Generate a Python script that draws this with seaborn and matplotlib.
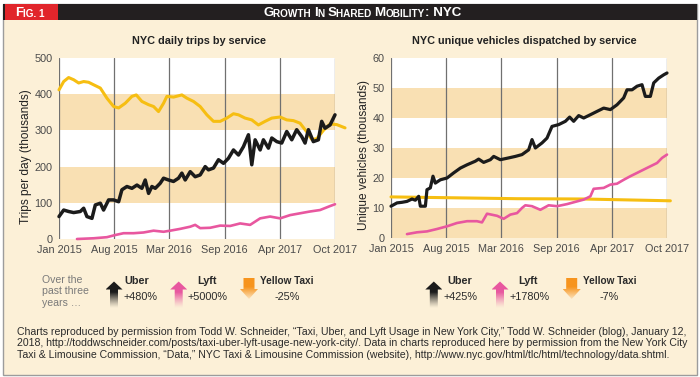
import matplotlib
matplotlib.use("Agg")
import matplotlib.pyplot as plt
import matplotlib.colors as mcolors
from matplotlib.patches import Rectangle, Polygon

import seaborn as sns
import pandas as pd
import numpy as np

sns.set_theme(style="white")
plt.rcParams["font.family"] = ["Liberation Sans Narrow", "Liberation Sans", "DejaVu Sans"]

# ---- data (x = months since Jan 2015) ----
trips_uber_month = [0.0, 0.56, 1.15, 1.75, 2.55, 2.95, 3.34, 3.94, 4.34, 4.94, 5.33, 5.93, 6.53,
                    7.13, 7.52, 8.12, 8.72, 9.32, 9.91, 10.31, 10.71, 11.11, 11.51, 12.1, 12.5,
                    13.1, 13.69, 14.29, 14.69, 15.09, 15.69, 16.28, 16.88, 17.48, 17.87, 18.47,
                    19.07, 19.67, 20.26, 20.86, 21.46, 22.05, 22.65, 23.05, 23.45, 24.05, 24.44,
                    25.04, 25.44, 26.04, 26.63, 27.23, 27.83, 28.42, 29.02, 29.42, 29.82, 30.41,
                    31.01, 31.41, 31.81, 32.41, 33.0]
trips_uber = [62, 80, 76, 73, 76, 85, 62, 57, 94, 99, 80, 108, 108,
              103, 136, 145, 140, 149, 140, 163, 126, 145, 140, 154, 168,
              163, 159, 168, 182, 163, 186, 172, 177, 200, 191, 196,
              219, 209, 223, 246, 232, 255, 288, 205, 274, 246, 274,
              251, 279, 269, 265, 297, 274, 302, 283, 265, 302, 269,
              274, 325, 306, 315, 343]

trips_lyft_month = [2.15, 4.14, 5.73, 6.73, 7.72, 8.92, 10.11, 11.31, 12.5, 13.3, 14.49, 15.69,
                    16.28, 16.88, 18.07, 19.27, 20.46, 21.66, 22.85, 24.05, 25.24, 26.43, 27.63,
                    28.82, 30.02, 31.21, 32.41, 33.0]
trips_lyft = [0, 2, 5, 11, 16, 16, 18, 23, 20, 23, 28, 34,
              39, 30, 31, 37, 36, 43, 39, 57, 62, 57, 66,
              71, 76, 80, 91, 96]

trips_taxi_month = [0.0, 0.56, 1.15, 1.75, 2.35, 2.95, 3.54, 4.14, 4.94, 5.73, 6.53, 7.13, 7.92,
                    8.72, 9.24, 9.91, 10.71, 11.31, 11.9, 12.5, 12.9, 13.69, 14.69, 15.29, 16.08,
                    16.88, 17.68, 18.47, 19.27, 20.06, 20.86, 21.46, 22.25, 23.05, 23.84, 24.64,
                    25.44, 26.43, 27.23, 28.03, 28.82, 29.62, 30.22, 30.82, 31.61, 32.41, 33.21, 34.2]
trips_taxi = [412, 435, 446, 440, 431, 435, 433, 426, 417, 389, 366, 362, 375,
              394, 398, 380, 371, 366, 352, 375, 394, 392, 398, 389, 380,
              366, 343, 325, 325, 334, 346, 343, 334, 329, 315, 325,
              334, 337, 329, 327, 320, 296, 275, 277, 300, 318, 316, 307]

veh_uber_month = [0.0, 0.72, 1.32, 1.91, 2.51, 2.91, 3.31, 3.51, 4.11, 4.3, 4.7, 5.02, 5.3,
                  5.9, 6.7, 7.49, 8.29, 9.09, 10.08, 10.48, 11.08, 11.88, 12.28, 13.07, 14.07,
                  14.87, 15.66, 16.46, 16.86, 17.26, 18.06, 18.65, 19.25, 20.05, 20.85, 21.36,
                  21.84, 22.44, 23.04, 23.84, 24.63, 25.43, 26.23, 27.02, 27.82, 28.22, 28.82,
                  29.42, 30.01, 30.41, 31.01, 31.41, 32.01, 32.61, 33.0]
veh_uber = [10.6, 11.7, 11.9, 12.2, 13.0, 12.6, 13.9, 10.6, 10.6, 16.1, 16.7, 20.6, 18.3,
            19.4, 20.0, 21.7, 23.3, 24.4, 25.6, 26.3, 25.2, 26.1, 27.2, 26.1, 26.7,
            27.2, 27.8, 29.4, 32.8, 30.0, 31.7, 33.3, 37.2, 37.8, 38.9, 40.3,
            38.9, 40.8, 40.0, 41.1, 42.2, 43.3, 42.8, 44.4, 46.7, 49.4, 49.4,
            50.6, 51.1, 47.2, 47.2, 51.7, 53.3, 54.4, 55.0]

veh_lyft_month = [1.91, 3.11, 4.3, 5.5, 6.7, 7.89, 9.09, 10.28, 10.88, 11.48, 12.68, 13.47,
                  14.27, 15.07, 15.66, 16.06, 16.86, 17.86, 18.85, 19.85, 21.05, 22.24, 23.04,
                  23.84, 24.23, 25.43, 26.23, 27.02, 27.82, 28.62, 29.42, 30.21, 31.01, 31.81,
                  32.41, 33.0]
veh_lyft = [1.3, 1.9, 2.2, 3.0, 3.9, 5.0, 5.6, 5.6, 5.2, 8.1, 7.4, 6.4,
            7.8, 8.3, 10.0, 10.9, 10.6, 9.4, 10.9, 10.6, 11.3, 12.2, 12.8,
            13.9, 16.4, 16.7, 17.8, 18.1, 19.4, 20.6, 21.7, 22.8, 23.9, 25.0,
            26.7, 27.8]

veh_taxi_month = [0.0, 15.07, 23.04, 33.4]
veh_taxi = [13.7, 13.1, 13.0, 12.4]

date_labels = ["Jan 2015", "Aug 2015", "Mar 2016", "Sep 2016", "Apr 2017", "Oct 2017"]

services = ["Uber", "Lyft", "Yellow Taxi"]
trips_change = ["+480%", "+5000%", "-25%"]
vehicles_change = ["+425%", "+1780%", "-7%"]

footnote = [
    "Charts reproduced by permission from Todd W. Schneider, \u201cTaxi, Uber, and Lyft Usage in New York City,\u201d "
    "Todd W. Schneider (blog), January 12,",
    "2018, http://toddwschneider.com/posts/taxi-uber-lyft-usage-new-york-city/. Data in charts reproduced here by "
    "permission from the New York City",
    "Taxi & Limousine Commission, \u201cData,\u201d NYC Taxi & Limousine Commission (website), "
    "http://www.nyc.gov/html/tlc/html/technology/data.shtml.",
]

# ---- colours ----
CREAM = "#FCF0D7"
BAND = "#F9E0B3"
YELLOW = "#F6BE12"
BLACK = "#1B1B1B"
PINK = "#E8579F"
ORANGE = "#F7941D"
GRID = "#707070"
TICK = "#4A4A4A"

fig = plt.figure(figsize=(7, 3.77), dpi=100)
fig.patch.set_facecolor("white")
W, H = 700, 377

# cream panel with grey frame (behind everything)
fig.patches.append(Rectangle((3 / W, 1 - 375 / H), 694 / W, 371 / H, transform=fig.transFigure,
                             facecolor=CREAM, edgecolor="#9C9C9C", lw=1.0, zorder=-5))


def draw_chart(ax, series, ymax, step, orange_first):
    ax.set_facecolor("none")
    xmax = 33
    # alternating horizontal bands
    for i, lo in enumerate(np.arange(0, ymax, step)):
        shaded = (i % 2 == 0) if orange_first else (i % 2 == 1)
        ax.axhspan(lo, lo + step, color=BAND if shaded else "white", lw=0, zorder=0)
    ticks = np.linspace(0, xmax, len(date_labels))
    for t in ticks:
        ax.axvline(t, color=GRID, lw=0.9, zorder=1)
    for x, y, color, lw in series:
        sns.lineplot(x=x, y=y, color=color, lw=lw, ax=ax, clip_on=False, zorder=3,
                     solid_joinstyle="round", solid_capstyle="round")
    ax.set_xlim(0, xmax)
    ax.set_ylim(0, ymax)
    ax.set_xticks(ticks)
    ax.set_xticklabels(date_labels)
    ax.set_yticks(np.arange(0, ymax + 1, step))
    ax.tick_params(axis="x", length=0, pad=4.5, labelsize=7.8, labelcolor=TICK)
    ax.tick_params(axis="y", length=0, pad=4.5, labelsize=7.8, labelcolor=TICK)
    for s in ax.spines.values():
        s.set_visible(False)


ax1 = fig.add_axes([59 / W, 1 - 239 / H, 276 / W, 181 / H])
draw_chart(ax1, [(trips_taxi_month, trips_taxi, YELLOW, 2.2),
                 (trips_lyft_month, trips_lyft, PINK, 1.9),
                 (trips_uber_month, trips_uber, BLACK, 2.5)], 500, 100, False)
ax1.set_ylabel("Trips per day (thousands)", fontsize=8.6, color="#222222", va="center")
ax1.yaxis.set_label_coords(-0.12, 0.456)

ax2 = fig.add_axes([391 / W, 1 - 238 / H, 276 / W, 180 / H])
draw_chart(ax2, [(veh_taxi_month, veh_taxi, YELLOW, 2.2),
                 (veh_lyft_month, veh_lyft, PINK, 1.9),
                 (veh_uber_month, veh_uber, BLACK, 2.3)], 60, 10, True)
ax2.set_ylabel("Unique vehicles (thousands)", fontsize=8.6, color="#222222", va="center")
ax2.yaxis.set_label_coords(-0.099, 0.461)

# ---- overlay in pixel coordinates ----
ov = fig.add_axes([0, 0, 1, 1], zorder=5)
ov.patch.set_alpha(0)
ov.axis("off")

# header bar
ov.add_patch(Rectangle((3, 4), 694, 16, facecolor="#231F20", lw=0))
ov.add_patch(Rectangle((5, 4), 53, 16, facecolor="#E1252B", lw=0))


def small_caps(x, y, parts, big=9.6, small=7.2):
    prev = None
    for txt, is_big in parts:
        kw = dict(fontsize=big if is_big else small, color="white", fontweight="bold", va="bottom")
        if prev is None:
            prev = ov.text(x, y, txt, ha="left", **kw)
        else:
            prev = ov.annotate(txt, xy=(1, 0), xycoords=prev, ha="left", **kw)


small_caps(15, 19, [("F", True), ("IG. 1", False)])
small_caps(263, 19, [("G", True), ("ROWTH ", False), ("I", True), ("N ", False), ("S", True),
                     ("HARED ", False), ("M", True), ("OBILITY", False), (": NYC", True)])

# chart titles
ov.text(199, 40.5, "NYC daily trips by service", ha="center", va="center",
        fontsize=7.8, fontweight="bold", color="#222222")
ov.text(524, 40.5, "NYC unique vehicles dispatched by service", ha="center", va="center",
        fontsize=7.8, fontweight="bold", color="#222222")


def gradient_arrow(cx, top, bottom, color, up=True, head_w=8.5, shaft_w=4.0, head_h=8):
    if up:
        pts = [(cx, top), (cx + head_w, top + head_h), (cx + shaft_w, top + head_h),
               (cx + shaft_w, bottom), (cx - shaft_w, bottom), (cx - shaft_w, top + head_h),
               (cx - head_w, top + head_h)]
    else:
        pts = [(cx - shaft_w, top), (cx + shaft_w, top), (cx + shaft_w, bottom - head_h),
               (cx + head_w, bottom - head_h), (cx, bottom), (cx - head_w, bottom - head_h),
               (cx - shaft_w, bottom - head_h)]
    poly = Polygon(pts, closed=True, facecolor="none", edgecolor="none")
    ov.add_patch(poly)
    t = np.linspace(0, 1, 80)
    img = np.ones((80, 1, 4))
    img[:, 0, :3] = mcolors.to_rgb(color)
    if up:
        img[:, 0, 3] = np.clip(1.15 - 1.25 * np.clip(t - 0.3, 0, None) / 0.7, 0, 1) ** 1.3
    else:
        img[:, 0, 3] = np.clip(1.1 - 0.95 * np.clip(t - 0.35, 0, None) / 0.65, 0, 1)
    im = ov.imshow(img, extent=(cx - head_w, cx + head_w, bottom, top), aspect="auto",
                   interpolation="bilinear", zorder=3)
    im.set_clip_path(poly)


ov.text(42, 280, "Over the", ha="left", va="center", fontsize=7.6, color="#7A7A7A")
ov.text(42, 291.5, "past three", ha="left", va="center", fontsize=7.6, color="#7A7A7A")
ov.text(42, 303, "years \u2026", ha="left", va="center", fontsize=7.6, color="#7A7A7A")

legend_sets = [
    (trips_change, [(114, 137, 140), (178.7, 207, 208), (249, 287, 287)]),
    (vehicles_change, [(433.8, 459.3, 460.3), (500, 528.3, 529.7), (571.7, 610, 609)]),
]
arrow_colors = [BLACK, PINK, ORANGE]
for changes, spots in legend_sets:
    for name, change, (ax_x, name_x, val_x), col in zip(services, changes, spots, arrow_colors):
        size = 7.8
        if change.startswith("-"):
            gradient_arrow(ax_x, 278, 299, col, up=False, head_w=9, shaft_w=5.5, head_h=10)
            size = 7.2
        else:
            gradient_arrow(ax_x, 281.5, 310, col, up=True)
        ov.text(name_x, 281.5, name, ha="center", va="center", fontsize=size,
                fontweight="bold", color="#2A2A2A")
        ov.text(val_x, 296.5, change, ha="center", va="center", fontsize=7.8, color="#2A2A2A")

for i, line in enumerate(footnote):
    ov.text(17, 331.7 + 11.7 * i, line, ha="left", va="center", fontsize=7.6, color="#2A2A2A")

ov.set_xlim(0, W)
ov.set_ylim(H, 0)

fig.savefig("out.png", dpi=100, facecolor=fig.get_facecolor())
